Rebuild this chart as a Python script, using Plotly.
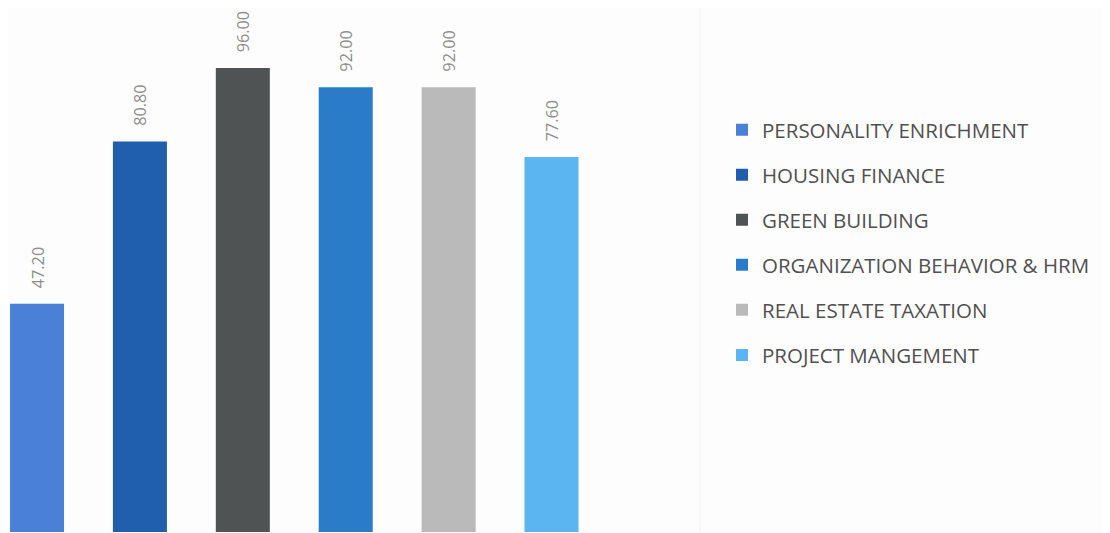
import plotly.graph_objects as go

categories = ["PERSONALITY ENRICHMENT", "HOUSING FINANCE", "GREEN BUILDING",
              "ORGANIZATION BEHAVIOR & HRM", "REAL ESTATE TAXATION", "PROJECT MANGEMENT"]
values = [47.20, 80.80, 96.00, 92.00, 92.00, 77.60]
colors = ["#4a80d6", "#1f5fae", "#4f5353", "#2a7cc9", "#bababa", "#5bb5f0"]

# page body has an 8px margin; the figure is sized to compensate
W, H = 1102, 525
fig = go.Figure()
for i, (c, v, col) in enumerate(zip(categories, values, colors)):
    fig.add_trace(go.Bar(
        x=[c], y=[v], name=c, marker=dict(color=col, line=dict(width=0)),
        width=0.525, text=["\u00a0\u00a0\u00a0" + f"{v:.2f}"], textposition="outside",
        textangle=-90,
        textfont=dict(color="#8e8e8e", size=17.5, family="Open Sans"),
        cliponaxis=False, legendgroup=f"g{i}",
    ))

fig.update_layout(
    width=W, height=H,
    margin=dict(l=0, r=0, t=0, b=1),
    paper_bgcolor="#fdfdfd", plot_bgcolor="#fdfdfd",
    barmode="overlay",
    showlegend=True,
    legend=dict(x=714 / W, xanchor="left", y=1 - 102 / H, yanchor="top",
                font=dict(family="Open Sans", size=20.5, color="#505050"),
                traceorder="grouped", tracegroupgap=15.4, itemwidth=30,
                bgcolor="rgba(0,0,0,0)"),
    xaxis=dict(type="category", categoryorder="array", categoryarray=categories,
               domain=[0, 692 / W], range=[-0.282, 6.443], visible=False),
    yaxis=dict(range=[0, 108.4], visible=False),
    shapes=[dict(type="line", xref="paper", yref="paper", x0=692 / W, x1=692 / W,
                 y0=0, y1=1, line=dict(color="#f0f0f0", width=1))],
)
fig.write_html("out.html")
